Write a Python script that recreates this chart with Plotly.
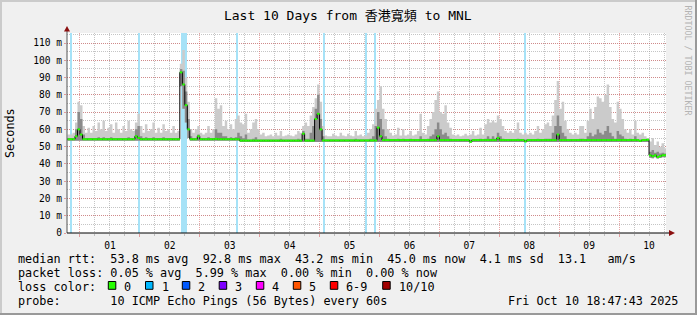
import pandas as pd
import plotly.graph_objects as go

# ---------------- data (hourly bins, ms) ----------------
bin_start = "2025-09-30 19:00"
range_start = "2025-09-30 18:47:43"
range_end = "2025-10-10 18:47:43"

smoke_max = [
    57, 57, 58, 64, 76, 74, 62, 58, 61, 58,
    62, 59, 64, 60, 65, 59, 61, 63, 58, 64,
    60, 58, 62, 59, 65, 60, 59, 64, 69, 62,
    58, 63, 59, 60, 64, 58, 61, 58, 63, 59,
    60, 58, 62, 58, 59, 98, 106, 90, 76, 60,
    58, 60, 62, 58, 57, 58, 62, 58, 60, 78,
    72, 74, 62, 65, 60, 63, 60, 66, 68, 64,
    63, 69, 58, 60, 64, 66, 60, 57, 58, 56,
    56.5, 57, 56, 58, 56.5, 59, 56, 56.5, 57, 56.5,
    56, 57, 59, 58, 62, 64, 62, 68, 73, 78,
    86, 76, 62, 56.5, 56, 56, 57.5, 56.5, 56, 58,
    56.5, 56, 57.5, 56.5, 56, 59, 56.5, 57, 56, 56.5,
    58, 60, 63, 72, 77, 85, 72, 66, 60, 58,
    56.5, 57, 61, 56.5, 60, 56.5, 57, 59, 56.5, 57,
    59, 69, 58, 57, 62, 66, 70, 77, 82, 70,
    69, 74, 64, 61, 57, 56.5, 57, 56, 56.5, 57.5,
    56.5, 57, 59, 56.5, 57, 61, 57, 63, 66, 64,
    65, 64, 68, 66, 62, 59, 58, 59, 58, 60,
    64, 58, 57, 58, 57, 58, 57, 59, 62, 58,
    60, 63, 64, 62, 68, 77, 88, 72, 76, 65,
    60, 58, 57, 58, 57, 62, 62, 58, 65, 72,
    66, 73, 79, 78, 76, 80, 86, 73, 66, 64,
    76, 72, 66, 60, 58, 60, 57, 65, 58, 57,
    58, 56, 55, 53, 55, 51, 53, 50, 52, 49,
]

smoke_mid = [
    54.8, 54.8, 54.8, 60, 70, 66, 57, 54.8, 54.8, 54.8,
    54.8, 54.8, 55.5, 54.8, 55.5, 54.8, 54.8, 55.5, 54.8, 54.8,
    54.8, 54.8, 54.8, 54.8, 55.5, 54.8, 54.8, 60, 62, 56,
    54.8, 55.5, 54.8, 54.8, 55.5, 54.8, 54.8, 54.8, 55.5, 54.8,
    54.8, 54.8, 54.8, 54.8, 54.8, 95, 94, 82, 66, 56,
    54.8, 54.8, 57, 54.8, 54.8, 54.8, 55.5, 54.8, 54.8, 60,
    58, 58, 56, 56, 54.8, 55.5, 54.8, 55.5, 58, 56,
    54.8, 57, 54.1, 54.1, 54.6, 55.5, 54.1, 54.1, 54.1, 54.1,
    54.1, 54.1, 54.1, 54.1, 54.1, 54.6, 54.1, 54.1, 54.1, 54.1,
    54.1, 54.1, 54.6, 54.1, 59, 54.6, 54.6, 58, 62, 72,
    80, 66, 56, 54.1, 54.1, 54.1, 54.1, 54.1, 54.1, 54.1,
    54.1, 54.1, 54.1, 54.1, 54.1, 54.6, 54.1, 54.1, 54.1, 54.1,
    54.1, 54.6, 56, 62, 70, 66, 60, 56, 54.6, 54.1,
    54.1, 54.1, 54.6, 54.1, 54.6, 54.1, 54.1, 54.6, 54.1, 54.1,
    54.1, 56, 54.1, 54.1, 54.6, 56, 57, 60, 64, 60,
    57, 58, 56, 54.6, 54.1, 54.1, 54.1, 54.1, 54.1, 54.1,
    54.1, 54.1, 54.1, 54.1, 54.1, 54.6, 54.1, 54.6, 56, 54.6,
    56, 54.6, 58, 56, 54.6, 54.1, 54.1, 54.1, 54.1, 54.1,
    54.6, 54.1, 54.1, 54.1, 54.1, 54.1, 54.1, 54.1, 54.6, 54.1,
    54.1, 54.6, 54.6, 54.6, 58, 62, 68, 62, 58, 56,
    54.1, 54.1, 54.1, 54.1, 54.1, 54.6, 54.6, 54.1, 56, 58,
    56, 57, 60, 58, 57, 59, 62, 58, 56, 54.6,
    59, 57, 56, 54.6, 54.1, 54.6, 54.1, 56, 54.1, 54.1,
    54.1, 54.1, 54.4, 47, 48, 46.5, 47, 46, 46.5, 46,
]

median_rtt = [
    54.3, 54.3, 54.3, 56, 60, 57, 54.3, 54.3, 54.3, 54.3,
    54.3, 54.3, 54.3, 54.3, 54.3, 54.3, 54.3, 54.3, 54.3, 54.3,
    54.3, 54.3, 54.3, 54.3, 54.3, 54.3, 54.3, 56, 55, 54.3,
    54.3, 54.3, 54.3, 54.3, 54.3, 54.3, 54.3, 54.3, 54.3, 54.3,
    54.3, 54.3, 54.3, 54.3, 54.3, 93, 86, 74, 60, 54.3,
    54.3, 54.3, 56, 54.3, 54.3, 54.3, 54.3, 54.3, 54.3, 54.5,
    54.3, 54.3, 54.3, 54.3, 54.3, 54.3, 54.3, 54.3, 54.3, 53.5,
    53.5, 53.5, 53.5, 53.5, 53.5, 53.5, 53.5, 53.5, 53.5, 53.5,
    53.5, 53.5, 53.5, 53.5, 53.5, 53.5, 53.5, 53.5, 53.5, 53.5,
    53.5, 53.5, 53.5, 53.5, 57.5, 53.5, 53.5, 53.5, 53.5, 66,
    69, 60, 53.6, 53.6, 53.6, 53.6, 53.6, 53.6, 53.6, 53.6,
    53.6, 53.6, 53.6, 53.6, 53.6, 53.6, 53.6, 53.6, 53.6, 53.6,
    53.6, 53.6, 53.6, 53.6, 61, 56, 53.8, 53.8, 53.8, 53.8,
    53.8, 53.8, 53.8, 53.8, 53.8, 53.8, 53.8, 53.8, 53.8, 53.8,
    53.8, 53.8, 53.8, 53.8, 53.8, 53.8, 53.8, 53.8, 56, 53.8,
    53.8, 53.8, 53.8, 53.8, 53.8, 53.8, 53.8, 53.8, 53.8, 53.8,
    53.8, 52.8, 53.8, 53.8, 53.8, 53.8, 53.8, 53.8, 53.8, 53.8,
    53.8, 53.8, 55, 53.8, 53.8, 53.8, 53.8, 53.8, 53.8, 53.8,
    53.8, 53.8, 53.8, 53, 53.8, 53.8, 53.8, 53.8, 53.8, 53.8,
    53.8, 53.8, 53.8, 53.8, 53.8, 53.8, 57, 53.8, 53.8, 53.8,
    53.8, 53.8, 53.8, 53.8, 53.8, 53.8, 53.8, 53.8, 53.8, 53.8,
    53.8, 53.8, 53.8, 53.8, 53.8, 53.8, 53.8, 53.8, 53.8, 53.8,
    53.8, 53.8, 53.8, 53.8, 53.8, 53.8, 53.8, 53.8, 53.8, 53.3,
    53.8, 53.8, 54, 45, 44.5, 45, 44, 44.5, 45, 45,
]

smoke_min = [
    53.4, 53.4, 53.4, 53.4, 53.4, 53.4, 53.4, 53.4, 53.4, 53.4,
    53.4, 53.4, 53.4, 53.4, 53.4, 53.4, 53.4, 53.4, 53.4, 53.4,
    53.4, 53.4, 53.4, 53.4, 53.4, 53.4, 53.4, 53.4, 53.4, 53.4,
    53.4, 53.4, 53.4, 53.4, 53.4, 53.4, 53.4, 53.4, 53.4, 53.4,
    53.4, 53.4, 53.4, 53.4, 53.4, 85, 72, 64, 55, 53.4,
    53.4, 53.4, 53.4, 53.4, 53.4, 53.4, 53.4, 53.4, 53.4, 53.4,
    53.4, 53.4, 53.4, 53.4, 53.4, 53.4, 53.4, 53.4, 53.4, 52.7,
    52.7, 52.7, 52.7, 52.7, 52.7, 52.7, 52.7, 52.7, 52.7, 52.7,
    52.7, 52.7, 52.7, 52.7, 52.7, 52.7, 52.7, 52.7, 52.7, 52.7,
    52.7, 52.7, 52.7, 52.7, 52.7, 52.7, 52.7, 52.7, 52.7, 52.7,
    52.7, 52.7, 52.7, 52.7, 52.7, 52.7, 52.7, 52.7, 52.7, 52.7,
    52.7, 52.7, 52.7, 52.7, 52.7, 52.7, 52.7, 52.7, 52.7, 52.7,
    52.7, 52.7, 52.7, 52.7, 52.7, 52.7, 52.7, 52.7, 52.7, 52.7,
    52.7, 52.7, 52.7, 52.7, 52.7, 52.7, 52.7, 52.7, 52.7, 52.7,
    52.7, 52.7, 52.7, 52.7, 52.7, 52.7, 52.7, 52.7, 52.7, 52.7,
    52.7, 52.7, 52.7, 52.7, 52.7, 52.7, 52.7, 52.7, 52.7, 52.7,
    52.7, 52.7, 52.7, 52.7, 52.7, 52.7, 52.7, 52.7, 52.7, 52.7,
    52.7, 52.7, 52.7, 52.7, 52.7, 52.7, 52.7, 52.7, 52.7, 52.7,
    52.7, 52.7, 52.7, 52.7, 52.7, 52.7, 52.7, 52.7, 52.7, 52.7,
    52.7, 52.7, 52.7, 52.7, 52.7, 52.7, 52.7, 52.7, 52.7, 52.7,
    52.7, 52.7, 52.7, 52.7, 52.7, 52.7, 52.7, 52.7, 52.7, 52.7,
    52.7, 52.7, 52.7, 52.7, 52.7, 52.7, 52.7, 52.7, 52.7, 52.7,
    52.7, 52.7, 52.7, 52.7, 52.7, 52.7, 52.7, 52.7, 52.7, 52.7,
    52.7, 52.7, 52.7, 43.6, 43.3, 43.8, 43.2, 43.4, 43.8, 43.9,
]

# packet-loss events (centre time, duration in minutes)
loss_times = ["2025-09-30 20:40", "2025-10-01 23:40", "2025-10-02 17:46",
              "2025-10-03 15:10", "2025-10-05 01:40", "2025-10-05 18:50",
              "2025-10-05 22:25", "2025-10-08 10:25"]
loss_minutes = [36, 36, 156, 36, 30, 30, 36, 36]

# y axis ticks
y_tickvals = [0, 10, 20, 30, 40, 50, 60, 70, 80, 90, 100, 110]
y_ticktext = ["0", "10 m", "20 m", "30 m", "40 m", "50 m", "60 m", "70 m",
              "80 m", "90 m", "100 m", "110 m"]
Y_TOP = 115.8

title_text = "Last 10 Days from 香港寬頻 to MNL"
legend_lines = [
    "median rtt:  53.8 ms avg  92.8 ms max  43.2 ms min  45.0 ms now  4.1 ms sd  13.1   am/s",
    "packet loss: 0.05 % avg  5.99 % max  0.00 % min  0.00 % now",
    "loss color:",
    "probe:       10 ICMP Echo Pings (56 Bytes) every 60s",
]
loss_labels = ["0", "1", "2", "3", "4", "5", "6-9", "10/10"]
loss_colors = ["#26ff00", "#00b8ff", "#0059ff", "#7e00ff", "#ff00ff",
               "#ff5500", "#ff0000", "#a10000"]
timestamp = "Fri Oct 10 18:47:43 2025"

assert len(smoke_max) == len(smoke_mid) == len(median_rtt) == len(smoke_min) == 240

# ---------------- figure ----------------
W, H = 697, 315
L, R, T, B = 67, 666, 33, 233


def px(x):
    return (x - L) / (R - L)


def py(y):
    return (B - y) / (B - T)


times = list(pd.date_range(bin_start, periods=len(median_rtt), freq="h"))
edges = times + [times[-1] + pd.Timedelta(hours=1)]


def stepped(v):
    return list(v) + [v[-1]]


fig = go.Figure()

# loss bars (full height)
fig.add_trace(go.Bar(
    x=pd.to_datetime(loss_times), y=[Y_TOP] * len(loss_times),
    width=[m * 60000 for m in loss_minutes],
    marker=dict(color="#a6e2f7", line=dict(width=0)), hoverinfo="skip"))

# light smoke
fig.add_trace(go.Scatter(x=edges, y=stepped(smoke_min), mode="lines",
                         line=dict(width=0, shape="hv"), hoverinfo="skip"))
fig.add_trace(go.Scatter(x=edges, y=stepped(smoke_max), mode="lines",
                         line=dict(width=0, shape="hv"), fill="tonexty",
                         fillcolor="#cbcbcb", hoverinfo="skip"))
# dark smoke
fig.add_trace(go.Scatter(x=edges, y=stepped(smoke_min), mode="lines",
                         line=dict(width=0, shape="hv"), hoverinfo="skip"))
fig.add_trace(go.Scatter(x=edges, y=stepped(smoke_mid), mode="lines",
                         line=dict(width=0, shape="hv"), fill="tonexty",
                         fillcolor="#8a8a8a", hoverinfo="skip"))
# median (black step) + green horizontal segments
fig.add_trace(go.Scatter(x=edges, y=stepped(median_rtt), mode="lines",
                         line=dict(width=1, color="#000000", shape="hv"),
                         hoverinfo="skip"))
gx, gy = [], []
for i, m in enumerate(median_rtt):
    gx += [edges[i], edges[i + 1], None]
    gy += [m, m, None]
fig.add_trace(go.Scatter(x=gx, y=gy, mode="lines",
                         line=dict(width=2, color="#26ff00"),
                         connectgaps=False, hoverinfo="skip"))

MONO = "DejaVu Sans Mono"
major_grid = "rgba(215,90,90,0.55)"
minor_grid = "rgba(150,150,150,0.55)"

fig.update_layout(
    width=W, height=H,
    margin=dict(l=L, r=W - R, t=T, b=H - B, pad=0),
    paper_bgcolor="#f0f0f0", plot_bgcolor="#ffffff",
    showlegend=False, barmode="overlay", bargap=0,
    font=dict(family=MONO, color="#000000"),
    title=dict(text=title_text, x=0.499, xref="container", xanchor="center",
               y=1 - 15 / H, yanchor="middle",
               font=dict(family=MONO + ", Noto Sans CJK TC", size=13)),
    xaxis=dict(
        type="date", range=[range_start, range_end],
        tick0="2025-10-01", dtick=86400000, tickformat="%d",
        ticklabelmode="period",
        showgrid=True, gridcolor=major_grid, griddash="1px,1px", gridwidth=1,
        ticks="outside", ticklen=3, tickcolor=major_grid,
        tickfont=dict(family=MONO, size=9.6),
        showline=False, zeroline=False,
        minor=dict(tick0="2025-10-01", dtick=6 * 3600000, showgrid=True,
                   gridcolor=minor_grid, griddash="1px,1px", gridwidth=1,
                   ticks="outside", ticklen=2, tickcolor=minor_grid),
    ),
    yaxis=dict(
        range=[0, Y_TOP], tickmode="array", tickvals=y_tickvals,
        ticktext=y_ticktext,
        showgrid=True, gridcolor=major_grid, griddash="1px,1px", gridwidth=1,
        ticks="outside", ticklen=2, tickcolor=major_grid,
        tickfont=dict(family=MONO, size=9.6),
        showline=False, zeroline=False,
        minor=dict(tick0=0, dtick=5, showgrid=True, gridcolor=minor_grid,
                   griddash="1px,1px", gridwidth=1),
    ),
)

shapes = []
# axis lines and arrows
shapes.append(dict(type="line", xref="paper", yref="paper",
                   x0=px(67), x1=px(67), y0=py(233), y1=py(31),
                   line=dict(color="#555555", width=1)))
shapes.append(dict(type="line", xref="paper", yref="paper",
                   x0=px(67), x1=px(670), y0=py(233), y1=py(233),
                   line=dict(color="#000000", width=1)))
shapes.append(dict(type="path", xref="paper", yref="paper",
                   path=f"M {px(64)} {py(31.5)} L {px(70)} {py(31.5)} L {px(67)} {py(26)} Z",
                   fillcolor="#8b1010", line=dict(width=0)))
shapes.append(dict(type="path", xref="paper", yref="paper",
                   path=f"M {px(669)} {py(230)} L {px(669)} {py(236)} L {px(675)} {py(233)} Z",
                   fillcolor="#8b1010", line=dict(width=0)))
# 3D frame
shapes.append(dict(type="rect", xref="paper", yref="paper", x0=px(0), x1=px(697),
                   y0=py(0), y1=py(2), fillcolor="#cbcbcb", line=dict(width=0)))
shapes.append(dict(type="rect", xref="paper", yref="paper", x0=px(0), x1=px(2),
                   y0=py(0), y1=py(315), fillcolor="#cbcbcb", line=dict(width=0)))
shapes.append(dict(type="rect", xref="paper", yref="paper", x0=px(0), x1=px(697),
                   y0=py(313), y1=py(315), fillcolor="#999999", line=dict(width=0)))
shapes.append(dict(type="rect", xref="paper", yref="paper", x0=px(695), x1=px(697),
                   y0=py(0), y1=py(315), fillcolor="#999999", line=dict(width=0)))
# loss colour boxes
box_left = [108.3, 145.5, 182.3, 219.2, 256.3, 293.3, 330.3, 382.7]
for bx, col in zip(box_left, loss_colors):
    shapes.append(dict(type="rect", xref="paper", yref="paper",
                       x0=px(bx), x1=px(bx + 7.5), y0=py(289.3), y1=py(281.5),
                       fillcolor=col, line=dict(color="#000000", width=1)))
fig.update_layout(shapes=shapes)

ann = []
LEG = 11.8
line_y = [259.3, 273.2, 287.0, 301.0]
for txt, yy in zip(legend_lines, line_y):
    ann.append(dict(text=txt.replace(" ", "\u00a0"), xref="paper", yref="paper",
                    x=px(15.7), y=py(yy), xanchor="left", yanchor="middle",
                    showarrow=False, font=dict(family=MONO, size=LEG)))
for bx, lab in zip(box_left, loss_labels):
    ann.append(dict(text=lab, xref="paper", yref="paper",
                    x=px(bx + 14), y=py(287.0), xanchor="left", yanchor="middle",
                    showarrow=False, font=dict(family=MONO, size=LEG)))
ann.append(dict(text=timestamp.replace(" ", "\u00a0"), xref="paper", yref="paper",
                x=px(680.5), y=py(301.0), xanchor="right", yanchor="middle",
                showarrow=False, font=dict(family=MONO, size=LEG)))
ann.append(dict(text="Seconds", xref="paper", yref="paper",
                x=px(10), y=py(133), xanchor="center", yanchor="middle",
                textangle=-90, showarrow=False, font=dict(family=MONO, size=LEG)))
ann.append(dict(text="RRDTOOL / TOBI OETIKER", xref="paper", yref="paper",
                x=px(687.5), y=py(60), xanchor="center", yanchor="middle",
                textangle=90, showarrow=False,
                font=dict(family=MONO, size=8.3, color="#b4b4b4")))
fig.update_layout(annotations=ann)

fig.write_html("out.html")
